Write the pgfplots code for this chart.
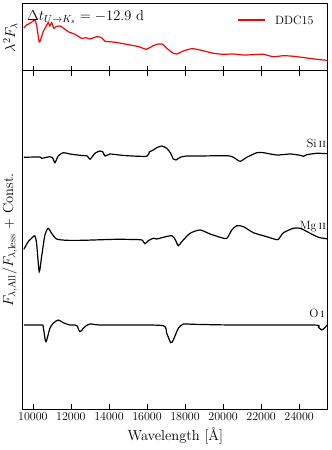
\RequirePackage{fix-cm}
\documentclass[border=0pt]{standalone}
\usepackage{pgfplots}
\pgfplotsset{compat=1.18}
\usepackage{pgfplotstable}

% red spectrum, lambda^2 F_lambda (arbitrary units)
\pgfplotstableread{
wl flux
9526 43
9668 46
9842 47.7
10016 50
10105 51
10195 46
10332 29
10458 34.3
10542 39.3
10684 44.3
10805 48.3
10895 45
10984 48.3
11105 42.7
11211 44.3
11421 45
11595 43
11858 39.3
12211 36.7
12563 32.7
12789 33.3
13000 32
13353 34.3
13616 33.3
13789 29.7
14226 29
14932 26.7
15632 24
15947 21.7
16332 25.3
16595 27
16826 26.7
17037 22.7
17384 17.7
17563 17
17911 20
18353 22.3
18789 21
19489 17.7
20016 16.7
20542 17
21068 16
21595 16.3
22121 16.7
22647 14.3
23174 15.3
23700 14.7
24405 13
25105 11.3
25510 10.7
}\ddc

\pgfplotstableread{
wl r
9526 251.7
10368 252
10458 250.7
10895 252.3
11037 251.3
11158 246.3
11332 253
11595 256.3
11947 255
12474 253.7
12858 253
13000 249.7
13263 255.7
13526 258
13668 257.3
13789 253
14053 255
14405 254.3
14932 253.3
15984 252.7
16121 257
16332 259
16511 261.3
16774 263
17037 260.7
17247 255.7
17384 250
17526 249
17737 251.7
18089 253
18789 253
20195 253.3
20542 251.7
20895 247.7
21247 251.7
21774 256.3
22121 256.3
22826 254
23526 255
24053 253.7
24226 252.7
24405 254.3
24932 255.7
25510 255.3
}\siline

\pgfplotstableread{
wl r
9526 159.7
9753 167.3
10016 172.3
10105 173
10195 165.7
10332 137.3
10458 152.3
10632 174
10805 180.7
10984 175.7
11247 170
11774 168.7
12647 168.7
14405 169.7
15632 169.3
15774 168.3
15895 165.3
16068 168.3
16332 170.7
16511 170
16858 171.7
17300 173.3
17474 169.7
17647 163.3
17826 167.3
18263 175.7
18789 179
19316 175
19842 171.7
20195 170.7
20458 179
20721 183.3
21068 182.3
21595 176.3
22295 172.3
22737 169.7
22911 169.7
23174 176.3
23700 180.7
24053 180.7
24579 175.7
25016 171.7
25510 170
}\mgline

\pgfplotstableread{
wl r
9526 84
10458 84
10542 82.3
10684 67.3
10895 80.7
11068 85.7
11332 89
11595 86.3
11947 84
12211 84
12332 83
12474 77.3
12737 82.3
13000 85
13526 84
15281 84
16858 83.3
17037 75.7
17247 66.3
17384 69
17647 80.7
17911 85
18437 84.7
20542 84
24752 84
25016 81.7
25195 79
25368 81.7
25510 85
}\oline

\pgfplotsset{
  panel/.style={
    scale only axis,
    width=304.7pt,
    xmin=9480, xmax=25500,
    xtick={10000,12000,...,24000},
    ytick=\empty,
    scaled x ticks=false,
    xticklabel style={/pgf/number format/1000 sep={}, /pgf/number format/fixed},
    major tick style={black, line width=0.6pt},
    major tick length=5pt,
    tick align=inside,
    axis line style={line width=1pt},
    tick label style={font=\fontsize{12}{14}\selectfont},
    label style={font=\fontsize{14.5}{17}\selectfont},
    ylabel style={at={(axis description cs:-0.018,0.5)}, anchor=south, inner sep=0pt},
  },
  spec/.style={line width=1.2pt, smooth, tension=0.4},
}

\begin{document}
\begin{tikzpicture}
\useasboundingbox (-23pt,-41pt) rectangle (309pt,409pt);

\begin{axis}[panel, at={(0,0)}, anchor=south west,
  height=338pt, ymin=0, ymax=338,
  xlabel={Wavelength [\AA]},
  ylabel={$F_{\lambda,\mathrm{All}}/F_{\lambda,\mathrm{less}}$ + Const.},
]
\addplot[black, spec] table[x=wl, y=r] {\siline};
\addplot[black, spec] table[x=wl, y=r] {\mgline};
\addplot[black, spec] table[x=wl, y=r] {\oline};
\node[anchor=base east, font=\fontsize{12}{14}\selectfont, inner sep=1pt] at (axis cs:25480,261) {Si\,\textsc{ii}};
\node[anchor=base east, font=\fontsize{12}{14}\selectfont, inner sep=1pt] at (axis cs:25480,179) {Mg\,\textsc{ii}};
\node[anchor=base east, font=\fontsize{12}{14}\selectfont, inner sep=1pt] at (axis cs:25380,92) {O\,\textsc{i}};
\end{axis}

\begin{axis}[panel, at={(0,338pt)}, anchor=south west,
  height=67pt, ymin=0, ymax=67,
  xtick pos=bottom, xticklabels={},
  ylabel={$\lambda^2 F_\lambda$},
]
\addplot[red, spec] table[x=wl, y=flux] {\ddc};
% legend key
\draw[red, line width=1.2pt] (axis description cs:0.706,0.761) -- (axis description cs:0.794,0.761);
\node[anchor=base west, font=\fontsize{12}{14}\selectfont, inner sep=0pt] at (axis description cs:0.827,0.687) {DDC15};
\node[anchor=base west, font=\fontsize{14.5}{17}\selectfont, inner sep=0pt] at (axis description cs:0.013,0.76) {$\Delta t_{U\rightarrow K_s} = -12.9$ d};
\end{axis}
\end{tikzpicture}
\end{document}
